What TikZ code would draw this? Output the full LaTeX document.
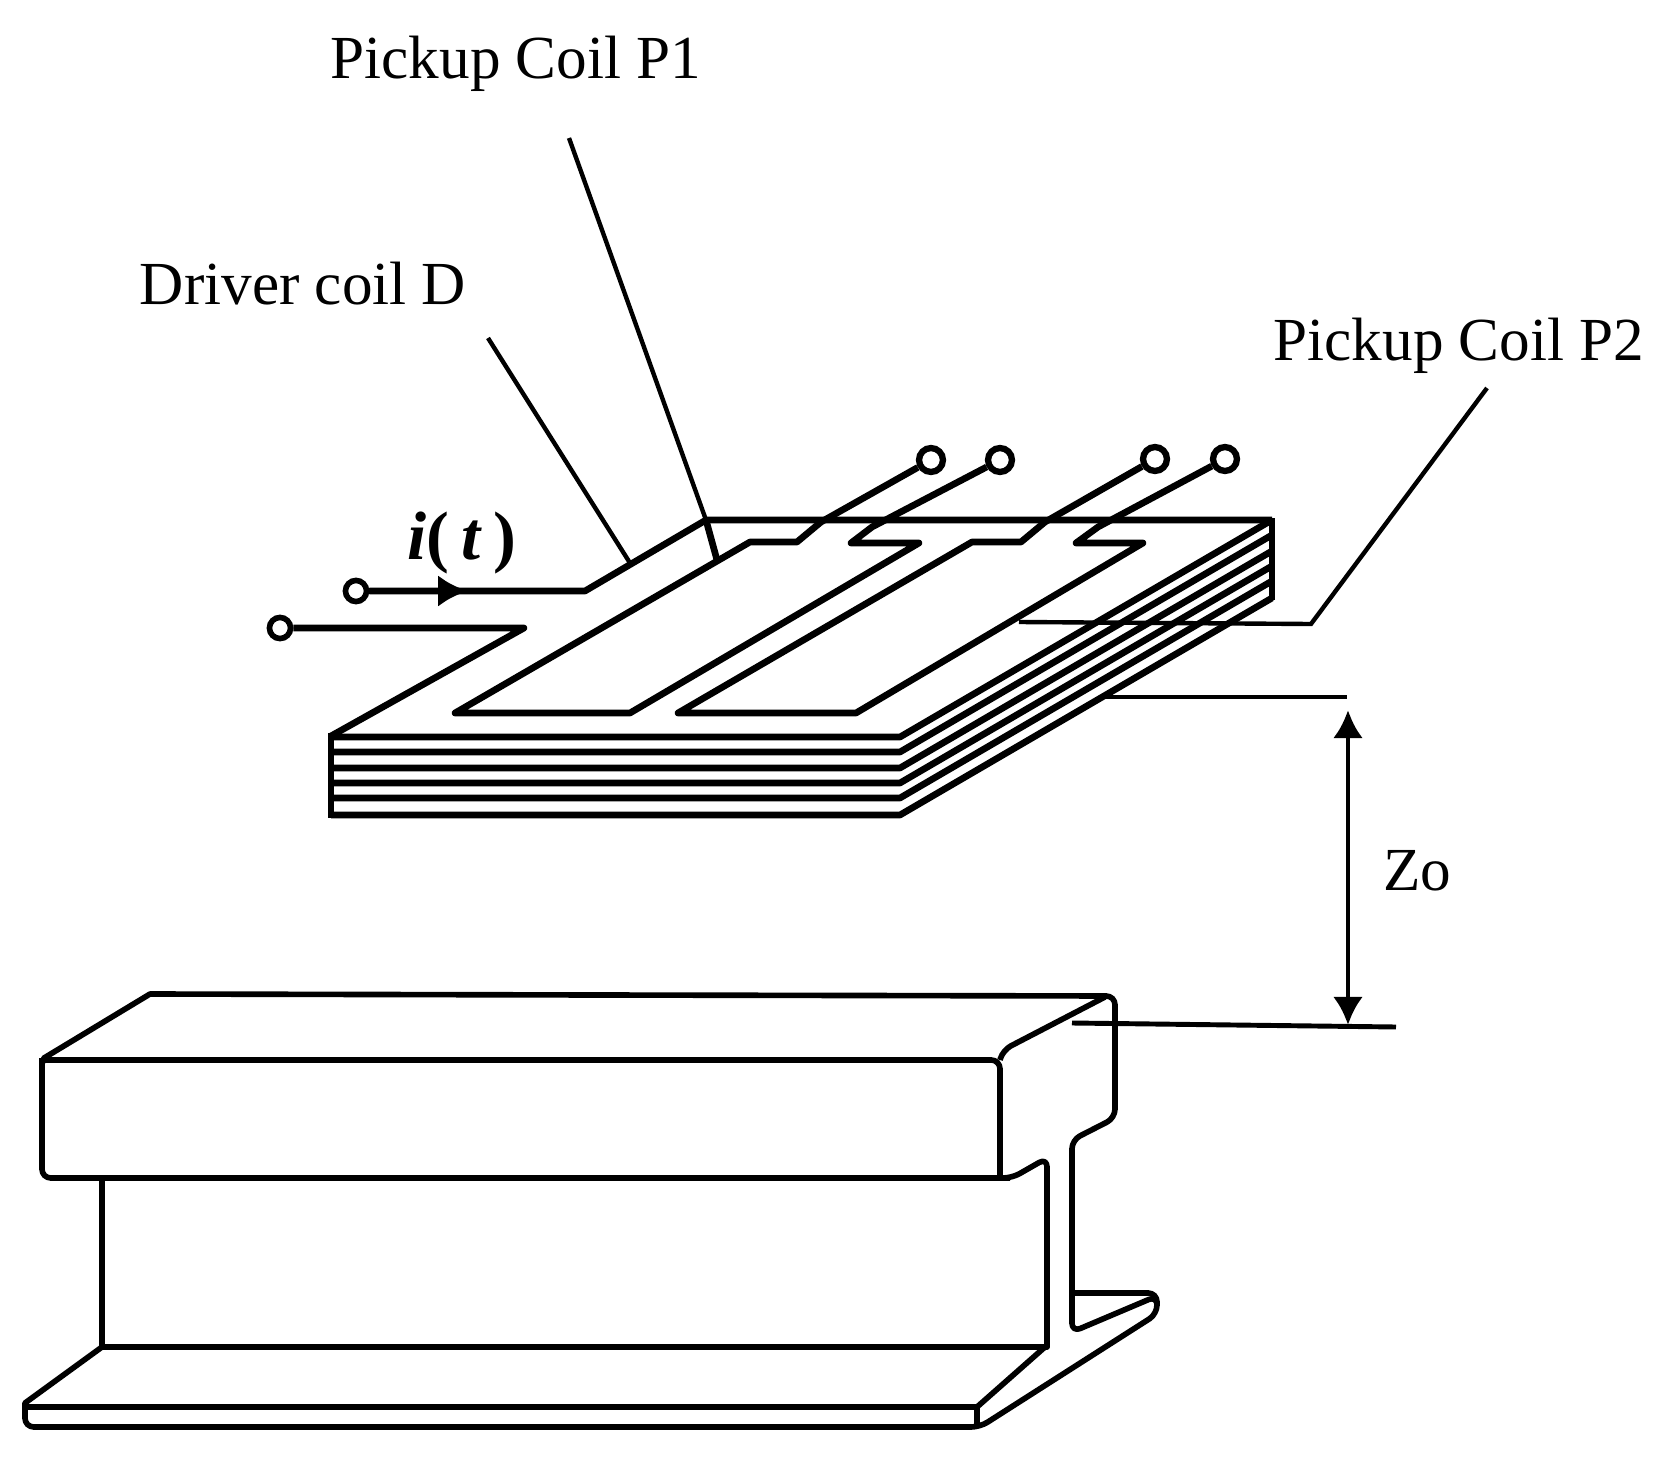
\documentclass[tikz,border=0pt]{standalone}
\usepackage{fontspec}
\setmainfont{Liberation Serif}
\usetikzlibrary{arrows.meta}
\tikzset{
  term/.style={circle,draw,fill=white,line width=1.8pt,inner sep=0pt,minimum size=6.8pt},
  lab/.style={font=\fontsize{17.4}{20}\selectfont,inner sep=0pt},
  coil/.style={line width=1.9pt,line join=round},
  thin leader/.style={line width=1.25pt},
  rail/.style={line width=1.6pt,line join=round,rounded corners=2.5pt}
}
\begin{document}
\begin{tikzpicture}
  [x=.01cm,y=-.01cm]
  \useasboundingbox (0,0) rectangle (1665,1463);

  % labels
  \node[lab] (p1) at (516,64) {Pickup Coil P1};
  \node[lab] (d) at (303,284) {Driver coil D};
  \node[lab] (p2) at (1459,346) {Pickup Coil P2};
  \node[lab] (zo) at (1417,871) {Zo};
  \node[lab,font=\fontsize{19.5}{24}\selectfont\bfseries] (cur) at (462,543) {\textit{i}(\,\textit{t}\,)};

  % terminals
  \node[term,minimum size=6pt,line width=1.6pt] (t1) at (280,628) {};
  \node[term,minimum size=6pt,line width=1.6pt] (t2) at (356,591) {};
  \node[term] (t3) at (931,460) {};
  \node[term] (t4) at (1000,460) {};
  \node[term] (t5) at (1155,459) {};
  \node[term] (t6) at (1225,459) {};

  % plate layers
  \foreach \y in {737,752,768,783,798,815}
    \draw[coil] (331,\y) -- (900,\y) -- (1272,\y-217);
  \draw[coil] (331,733) -- (331,818);
  \draw[coil] (1272,518) -- (1272,600);

  % driver coil
  \draw[coil] (t1) -- (524,628) -- (331,736);
  \draw[coil] (t2) -- (585,591) -- (706,520) -- (1272,520);
  \draw[-{Latex[length=8.5pt,width=9pt]},line width=1.9pt] (t2) -- (468,591);

  % pickup coils
  \draw[coil] (t3) -- (821,522) -- (797,542) -- (750,542) -- (455,713) -- (630,713)
    -- (919,543) -- (851,543) -- (872,527) -- (t4);
  \draw[coil] (t5) -- (1045,522) -- (1021,542) -- (972,542) -- (678,713) -- (856,713)
    -- (1143,543) -- (1076,543) -- (1098,527) -- (t6);

  % leaders
  \coordinate (a1) at (569,138);
  \coordinate (a2) at (717,560);
  \coordinate (b1) at (488,338);
  \coordinate (b2) at (630,563);
  \coordinate (c1) at (1487,388);
  \coordinate (c2) at (1311,624);
  \coordinate (c3) at (1019,622);
  \draw[thin leader] (a1) -- (706,520);
  \draw[coil] (706,520) -- (a2);
  \draw[thin leader] (b1) -- (b2);
  \draw[thin leader] (c1) -- (c2) -- (c3);

  % gap
  \coordinate (g1) at (1102,697);
  \coordinate (g2) at (1347,697);
  \coordinate (g3) at (1072,1023);
  \coordinate (g4) at (1396,1027);
  \draw[line width=1pt] (g1) -- (g2);
  \draw[line width=1.4pt] (g3) -- (g4);
  \draw[{Latex[length=8pt,width=8.5pt]}-{Latex[length=8pt,width=8.5pt]},line width=1.4pt] (1348,710) -- (1348,1025);

  % rail
  \draw[rail,sharp corners] (42,1064) -- (44,1058) -- (150,994) -- (600,995);
  \draw[rail] (600,995) -- (1115,996) -- (1115,1118) -- (1072,1140) -- (1072,1332)
    -- (1157,1296) -- (1157,1314) -- (980,1427) -- (25,1427) -- (25,1405);
  \draw[rail] (1010,1178) -- (42,1178) -- (42,1058);
  \draw[rail,sharp corners] (102,1347) -- (25,1403) -- (25,1415);
  \draw[rail] (45,1060) -- (1000,1060) -- (1000,1178);
  \draw[rail] (1000,1060) -- (1003,1050) -- (1105,997);
  \draw[rail] (1000,1178) -- (1012,1178) -- (1047,1158) -- (1047,1250);
  \draw[rail,sharp corners] (1047,1250) -- (1047,1347) -- (102,1347) -- (102,1178);
  \draw[rail] (1072,1293) -- (1157,1293) -- (1157,1305);
  \draw[rail,sharp corners] (26,1407) -- (977,1407) -- (1045,1347);
  \draw[rail,sharp corners] (977,1407) -- (977,1427);

\end{tikzpicture}
\end{document}
